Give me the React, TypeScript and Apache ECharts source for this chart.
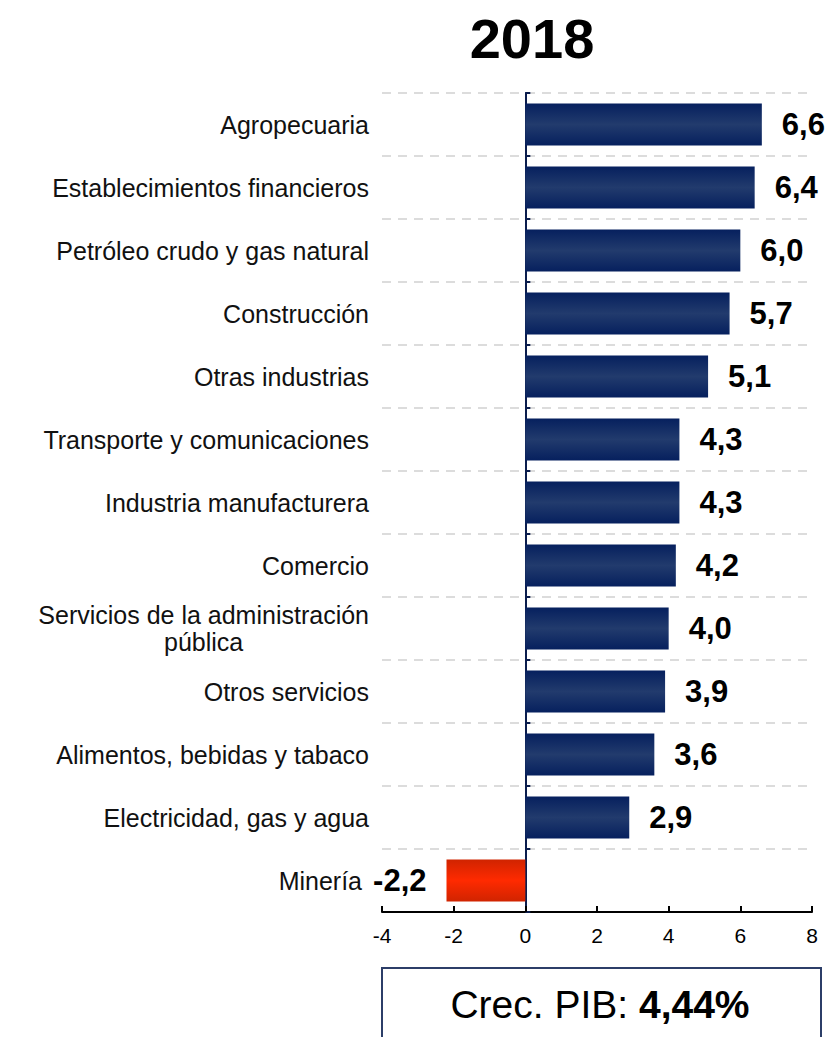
import React, { useEffect, useRef } from "react";
import * as echarts from "echarts";

const title = "2018";
const categories = [
  "Agropecuaria",
  "Establecimientos financieros",
  "Petróleo crudo y gas natural",
  "Construcción",
  "Otras industrias",
  "Transporte y comunicaciones",
  "Industria manufacturera",
  "Comercio",
  "Servicios de la administración\npública",
  "Otros servicios",
  "Alimentos, bebidas y tabaco",
  "Electricidad, gas y agua",
  "Minería",
];
const values = [6.6, 6.4, 6.0, 5.7, 5.1, 4.3, 4.3, 4.2, 4.0, 3.9, 3.6, 2.9, -2.2];
const xTicks = { min: -4, max: 8, interval: 2 };
const pibLabel = "Crec. PIB: ";
const pibValue = "4,44%";

const FONT = "'Liberation Sans', Arial, Helvetica, sans-serif";

export default function App() {
  const ref = useRef<HTMLDivElement>(null);
  useEffect(() => {
    document.body.style.margin = "0";
    if (!ref.current) return;
    const chart = echarts.init(ref.current, undefined, { renderer: "svg" });
    const blue = new echarts.graphic.LinearGradient(0, 0, 0, 1, [
      { offset: 0, color: "#06205e" },
      { offset: 0.5, color: "#223b6d" },
      { offset: 1, color: "#06205e" },
    ]);
    const red = new echarts.graphic.LinearGradient(0, 0, 0, 1, [
      { offset: 0, color: "#d02400" },
      { offset: 0.5, color: "#ff2a00" },
      { offset: 1, color: "#d02400" },
    ]);
    const fmt = (v: number) => v.toFixed(1).replace(".", ",");
    const catData = categories.map((c, i) =>
      values[i] < 0 ? { value: c, textStyle: { padding: [0, 7, 0, 0] } } : c
    );
    chart.setOption({
      animation: false,
      textStyle: { fontFamily: FONT },
      grid: { left: 382, right: 21, top: 93, bottom: 125 },
      xAxis: {
        type: "value",
        min: xTicks.min,
        max: xTicks.max,
        interval: xTicks.interval,
        axisLine: { show: true, onZero: false, lineStyle: { color: "#000", width: 2 } },
        axisTick: { show: true, inside: true, length: 6, lineStyle: { color: "#000", width: 2 } },
        axisLabel: { color: "#000", fontSize: 21, margin: 13, fontFamily: FONT },
        splitLine: { show: false },
      },
      yAxis: [
        {
          type: "category",
          data: catData,
          inverse: true,
          axisLine: { show: false, onZero: false },
          axisTick: { show: false },
          axisLabel: {
            color: "#111",
            fontSize: 25,
            margin: 13,
            fontFamily: FONT,
            formatter: (v: string) => {
              if (v.indexOf("\n") >= 0) {
                const [a, b] = v.split("\n");
                return `{l|${a}}\n{c|${b}}`;
              }
              return v;
            },
            rich: {
              l: { fontSize: 25, align: "right", lineHeight: 27, fontFamily: FONT, color: "#111" },
              c: { fontSize: 25, align: "center", lineHeight: 27, fontFamily: FONT, color: "#111" },
            },
          },
          splitLine: {
            show: true,
            lineStyle: { color: "#dcdcdc", width: 2, type: [9, 7] },
          },
        },
        {
          type: "category",
          data: categories,
          inverse: true,
          position: "left",
          axisLine: { show: true, onZero: true, lineStyle: { color: "#0b1d4d", width: 2 } },
          axisTick: { show: true, inside: true, length: 5, lineStyle: { color: "#0b1d4d", width: 2 } },
          axisLabel: { show: false },
          splitLine: { show: false },
        },
      ],
      series: [
        {
          type: "bar",
          yAxisIndex: 0,
          barWidth: 42,
          data: values.map((v) => ({
            value: v,
            itemStyle: { color: v < 0 ? red : blue },
            label: { position: v < 0 ? "left" : "right" },
          })),
          label: {
            show: true,
            distance: 20,
            color: "#000",
            fontSize: 31,
            fontWeight: "bold",
            fontFamily: FONT,
            formatter: (p: any) => fmt(p.value),
          },
        },
      ],
      graphic: [
        {
          type: "text",
          x: 532,
          y: 38,
          style: {
            text: title,
            fontSize: 56,
            fontWeight: "bold",
            fontFamily: FONT,
            fill: "#000",
            align: "center",
            verticalAlign: "middle",
          },
        },
        {
          type: "rect",
          shape: { x: 382, y: 968, width: 439, height: 90 },
          style: { fill: "none", stroke: "#2c3e68", lineWidth: 2 },
        },
        {
          type: "text",
          x: 600,
          y: 1004,
          style: {
            text: `{n|${pibLabel}}{b|${pibValue}}`,
            align: "center",
            verticalAlign: "middle",
            rich: {
              n: { fontSize: 39, fontFamily: FONT, fill: "#000", color: "#000" },
              b: { fontSize: 39, fontWeight: "bold", fontFamily: FONT, fill: "#000", color: "#000" },
            },
          },
        },
      ],
    });
    return () => chart.dispose();
  }, []);
  return <div ref={ref} style={{ width: 833, height: 1037 }} />;
}
